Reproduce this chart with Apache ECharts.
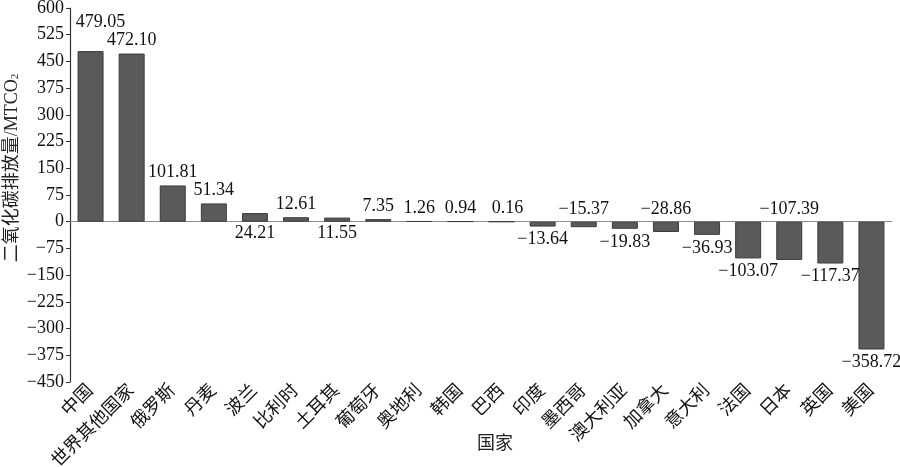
<!DOCTYPE html>
<html>
<head>
<meta charset="utf-8">
<script src="https://cdn.jsdelivr.net/npm/echarts@6/dist/echarts.min.js"></script>
<style>html,body{margin:0;padding:0;background:#fff;}#c{width:900px;height:467px;}</style>
</head>
<body>
<div id="c"></div>
<script>
var categories = ['中国','世界其他国家','俄罗斯','丹麦','波兰','比利时','土耳其','葡萄牙','奥地利','韩国','巴西','印度','墨西哥','澳大利亚','加拿大','意大利','法国','日本','英国','美国'];
var values = [479.05,472.10,101.81,51.34,24.21,12.61,11.55,7.35,1.26,0.94,0.16,-13.64,-15.37,-19.83,-28.86,-36.93,-103.07,-107.39,-117.37,-358.72];
// where each value label sits: 'end' = at the bar end, 'axis' = on the other side of the zero line
var labelPlacement = ['end','end','end','end','axis','end','axis','end','end','end','end','end','axis','end','axis','end','end','axis','end','end'];
var yTicks = {min: -450, max: 600, step: 75};
var yName = '二氧化碳排放量/MTCO';
var xName = '国家';

var SERIF = '"Liberation Serif","Noto Sans CJK SC",serif';
var FS = 18;
function fmt(v, d) {
  var s = Math.abs(v).toFixed(d);
  return v < 0 ? '\u2212' + s : s;
}
var nudge = {'中国': [10, -16], '巴西': [6, 0]};

var data = values.map(function (v, i) {
  var atEnd = labelPlacement[i] === 'end';
  var pos = v >= 0 ? (atEnd ? 'top' : 'bottom') : (atEnd ? 'outside' : 'top');
  var off = nudge[categories[i]] || [0, 0];
  return {
    value: v,
    label: {show: true, position: pos, offset: off, distance: atEnd ? 4 : 3}
  };
});

var chart = echarts.init(document.getElementById('c'));
chart.setOption({
  animation: false,
  backgroundColor: '#fff',
  grid: {left: 70, right: 8, top: 8, bottom: 85, containLabel: false, outerBoundsMode: 'none'},
  xAxis: [{
    type: 'category', data: categories, position: 'bottom',
    axisLine: {show: false, onZero: false},
    axisTick: {show: false},
    axisLabel: {interval: 0, rotate: 45, margin: 6, color: '#111', fontSize: FS, fontFamily: SERIF}
  }, {
    type: 'category', data: categories, position: 'bottom',
    axisLine: {show: true, onZero: true, lineStyle: {color: '#8c8c8c', width: 1.2}},
    axisTick: {show: false}, axisLabel: {show: false}
  }],
  yAxis: {
    type: 'value', min: yTicks.min, max: yTicks.max, interval: yTicks.step,
    axisLine: {show: true, lineStyle: {color: '#333', width: 1.2}},
    axisTick: {show: true, length: 4, lineStyle: {color: '#333'}},
    splitLine: {show: false},
    axisLabel: {color: '#111', fontSize: FS, fontFamily: SERIF, margin: 6,
      formatter: function (v) { return fmt(v, 0); }}
  },
  series: [{
    type: 'bar', xAxisIndex: 0, data: data, barWidth: 26,
    itemStyle: {color: '#5a5a5a', borderColor: '#3c3c3c', borderWidth: 1},
    label: {color: '#111', fontSize: FS, fontFamily: SERIF,
      formatter: function (p) { return fmt(p.value, 2); }}
  }],
  graphic: [{
    type: 'text', x: 12, y: 168, rotation: Math.PI / 2,
    style: {text: yName + '{s|2}', fill: '#222', font: FS + 'px ' + SERIF, align: 'center', verticalAlign: 'middle',
      rich: {s: {fontSize: 11, fontFamily: SERIF, fill: '#222', verticalAlign: 'bottom', padding: [6, 0, 0, 0]}}}
  }, {
    type: 'text', x: 495, y: 444,
    style: {text: xName, fill: '#222', font: FS + 'px ' + SERIF, align: 'center', verticalAlign: 'middle'}
  }]
});
</script>
</body>
</html>
